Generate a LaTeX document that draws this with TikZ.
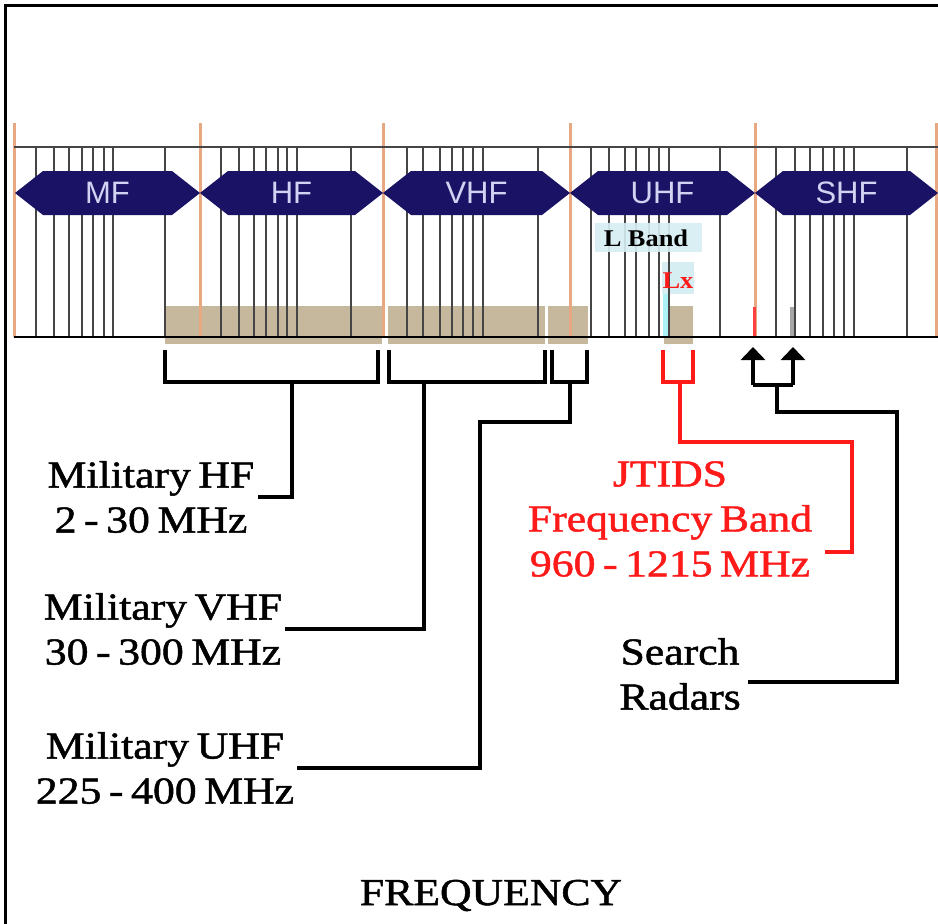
\documentclass[tikz,border=0pt]{standalone}
\usepackage{fontspec}
\setmainfont{Liberation Serif}
\newfontfamily\labserif[FakeStretch=1.15,FakeBold=1.3]{Liberation Serif}
\newfontfamily\smallserif[FakeStretch=1.1]{Liberation Serif}
\newfontfamily\bandsans{Liberation Sans}
\usetikzlibrary{arrows.meta,calc}
\definecolor{navy}{HTML}{1A1264}
\definecolor{lav}{HTML}{D2D2F2}
\definecolor{salmon}{HTML}{E8A882}
\definecolor{grid}{HTML}{454545}
\definecolor{tan}{HTML}{C6B89C}
\definecolor{lcyan}{HTML}{D6EEF2}
\definecolor{jred}{HTML}{FF1A1A}
\newcommand\labfont{\labserif\fontsize{38}{45}\selectfont\spaceskip=0.2em plus 0.05em\relax}
\tikzset{
  gridline/.style={draw=grid, line width=2.3pt},
  bandline/.style={draw=salmon, line width=3pt},
  hexband/.style={fill=navy},
  bandlabel/.style={text=lav, font=\bandsans\fontsize{31}{31}\selectfont, inner sep=0pt},
  tanbar/.style={fill=tan},
  conn/.style={draw=black, line width=3.5pt, line join=miter},
  rconn/.style={draw=jred, line width=3.5pt, line join=miter},
  milabel/.style={align=center, inner sep=3pt, font=\labfont},
  uparrow/.style={-{Triangle[width=24pt,length=13pt]}}
}
\begin{document}
\begin{tikzpicture}[x=1pt,y=-1pt]
\useasboundingbox (0,0) rectangle (938,924);
\fill[white] (0,0) rectangle (938,924);
% frame (top and left)
\draw[black, line width=3pt] (5,924) -- (5,5) -- (938,5);

% tan bars
\fill[tanbar] (165,306) rectangle (382,344);
\fill[tanbar] (388,306) rectangle (545,344);
\fill[tanbar] (548,306) rectangle (588,344);
\fill[tanbar] (664,306) rectangle (693,344);
\fill[lcyan] (662,262) rectangle (694,294);
\fill[lcyan!80!cyan] (663,294) rectangle (668,337);

% grid lines
\foreach \x in {36,54,69,82,93,104,113,
                165,221,239,254,266,278,287,297,351,
                407,423,440,452,463,473,483,538,
                591,609,625,636,649,659,669,720,
                776,795,810,823,834,844,854,907}
  \draw[gridline] (\x,147) -- (\x,337);
% band boundaries
\foreach \x in {14,200,383,570,755,936}
  \draw[bandline] (\x,123) -- (\x,337);
\draw[red!75, line width=3pt] (754,307) -- (754,337);
\draw[gray!70, line width=4pt] (792,307) -- (792,337);
% top line and baseline
\draw[grid, line width=2pt] (14,147) -- (938,147);
\draw[black, line width=2.5pt] (14,337) -- (938,337);

% hexagon bands
\foreach \a/\b/\t/\n in {15/200/MF/mf, 200/383/HF/hf, 383/570/VHF/vhf, 570/755/UHF/uhf, 755/938/SHF/shf}{
  \fill[hexband] (\a,193) -- (\a+28,171) -- (\b-28,171) -- (\b,193) -- (\b-28,215) -- (\a+28,215) -- cycle;
  \node[bandlabel] (band\n) at ({(\a+\b)/2},193) {\t};
}

% L Band and Lx labels
\fill[lcyan, opacity=0.9] (595,223) rectangle (702,252);
\node[font=\smallserif\bfseries\fontsize{24}{24}\selectfont, inner sep=0pt] (lband) at (646,238) {L Band};
\node[font=\smallserif\bfseries\fontsize{24}{24}\selectfont, text=jred, inner sep=0pt] (lx) at (678,281) {Lx};

% text labels
\node[milabel] (mhf) at (151,497) {Military HF\\2 - 30 MHz};
\node[milabel] (mvhf) at (163,629) {Military VHF\\30 - 300 MHz};
\node[milabel] (muhf) at (165,768) {Military UHF\\225 - 400 MHz};
\node[milabel, text=jred] (jtids) at (670,519) {JTIDS\\Frequency Band\\960 - 1215 MHz};
\node[milabel] (radars) at (680,674) {Search\\Radars};
\node[font=\labfont, anchor=base] (freq) at (491,905) {FREQUENCY};

% bracket coordinates
\coordinate (hfA) at (165,350); \coordinate (hfB) at (378,350); \coordinate (hfS) at (292,382);
\coordinate (vhA) at (389,350); \coordinate (vhB) at (545,350); \coordinate (vhS) at (424,382);
\coordinate (uhA) at (552,350); \coordinate (uhB) at (587,350); \coordinate (uhS) at (570,382);
\coordinate (uhK) at (480,422);
\coordinate (jtA) at (663,350); \coordinate (jtB) at (693,350); \coordinate (jtS) at (680,382);
\coordinate (jtK) at (852,442); \coordinate (jtend) at (825,552);
\coordinate (srA) at (753,347); \coordinate (srB) at (793,347); \coordinate (srS) at (777,385);
\coordinate (srK) at (897,412); \coordinate (srend) at (748,682);

% brackets and connectors
\draw[conn] (hfA) -- (hfA |- hfS) -- (hfB |- hfS) -- (hfB);
\draw[conn] (hfS) -- (hfS |- mhf.east) -- (mhf.east);
\draw[conn] (vhA) -- (vhA |- vhS) -- (vhB |- vhS) -- (vhB);
\draw[conn] (vhS) -- (vhS |- mvhf.east) -- (mvhf.east);
\draw[conn] (uhA) -- (uhA |- uhS) -- (uhB |- uhS) -- (uhB);
\draw[conn] (uhS) -- (uhS |- uhK) -- (uhK) -- (uhK |- muhf.east) -- (muhf.east);
\draw[rconn] (jtA) -- (jtA |- jtS) -- (jtB |- jtS) -- (jtB);
\draw[rconn] (jtS) -- (jtS |- jtK) -- (jtK) -- (jtK |- jtend) -- (jtend);
\draw[conn] (srA |- srS) -- (srB |- srS);
\draw[conn, uparrow] (srA |- srS) -- (srA);
\draw[conn, uparrow] (srB |- srS) -- (srB);
\draw[conn] (srS) -- (srS |- srK) -- (srK) -- (srK |- srend) -- (srend);
\end{tikzpicture}
\end{document}
